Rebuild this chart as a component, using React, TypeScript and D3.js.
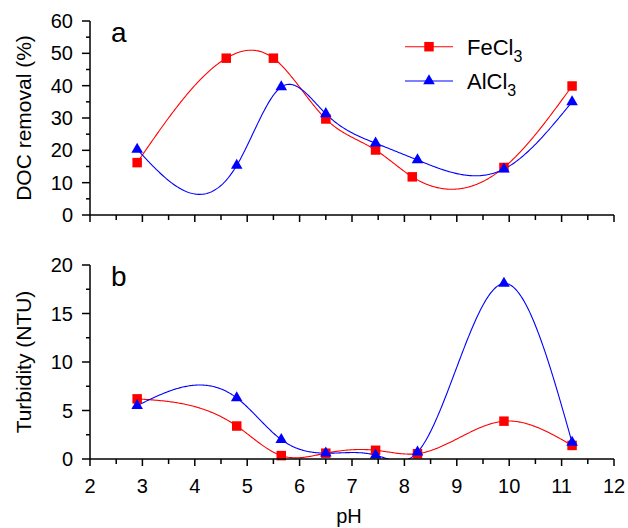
import React from "react";
import * as d3 from "d3";

const pHFeA = [2.9, 4.6, 5.5, 6.5, 7.45, 8.15, 9.9, 11.2];
const docFe = [16.2, 48.5, 48.5, 29.7, 20.1, 11.8, 14.7, 39.9];
const pHAlA = [2.9, 4.8, 5.65, 6.5, 7.45, 8.25, 9.9, 11.2];
const docAl = [20.3, 15.3, 39.6, 31.3, 22.2, 17.0, 14.2, 35.0];

const pHB = [2.9, 4.8, 5.65, 6.5, 7.45, 8.25, 9.9, 11.2];
const turbFe = [6.2, 3.4, 0.35, 0.6, 0.9, 0.55, 3.9, 1.4];
const turbAl = [5.5, 6.3, 2.0, 0.6, 0.4, 0.7, 18.1, 1.7];

const xTicks = [2, 3, 4, 5, 6, 7, 8, 9, 10, 11, 12];
const yTicksA = [0, 10, 20, 30, 40, 50, 60];
const yTicksB = [0, 5, 10, 15, 20];

const RED = "#ff0000";
const BLUE = "#0000ff";
const FONT = "'Liberation Sans', Arial, sans-serif";

// natural cubic spline in x, sampled for drawing
function spline(xs: number[], ys: number[], n = 400): [number, number][] {
  const k = xs.length;
  const h: number[] = [];
  for (let i = 0; i < k - 1; i++) h.push(xs[i + 1] - xs[i]);
  const a: number[] = new Array(k).fill(0);
  const b: number[] = new Array(k).fill(0);
  const c: number[] = new Array(k).fill(0);
  const d: number[] = new Array(k).fill(0);
  b[0] = 1; b[k - 1] = 1;
  for (let i = 1; i < k - 1; i++) {
    a[i] = h[i - 1];
    b[i] = 2 * (h[i - 1] + h[i]);
    c[i] = h[i];
    d[i] = 6 * ((ys[i + 1] - ys[i]) / h[i] - (ys[i] - ys[i - 1]) / h[i - 1]);
  }
  const cp = new Array(k).fill(0);
  const dp = new Array(k).fill(0);
  cp[0] = c[0] / b[0];
  dp[0] = d[0] / b[0];
  for (let i = 1; i < k; i++) {
    const m = b[i] - a[i] * cp[i - 1];
    cp[i] = c[i] / m;
    dp[i] = (d[i] - a[i] * dp[i - 1]) / m;
  }
  const M = new Array(k).fill(0);
  M[k - 1] = dp[k - 1];
  for (let i = k - 2; i >= 0; i--) M[i] = dp[i] - cp[i] * M[i + 1];
  const out: [number, number][] = [];
  for (let s = 0; s <= n; s++) {
    const x = xs[0] + ((xs[k - 1] - xs[0]) * s) / n;
    let i = 0;
    while (i < k - 2 && x > xs[i + 1]) i++;
    const hi = h[i];
    const t1 = xs[i + 1] - x;
    const t0 = x - xs[i];
    const y =
      (M[i] * t1 * t1 * t1) / (6 * hi) +
      (M[i + 1] * t0 * t0 * t0) / (6 * hi) +
      (ys[i] / hi - (M[i] * hi) / 6) * t1 +
      (ys[i + 1] / hi - (M[i + 1] * hi) / 6) * t0;
    out.push([x, y]);
  }
  return out;
}

const X0 = 90, X1 = 614;
const x = d3.scaleLinear().domain([2, 12]).range([X0, X1]);
const yA = d3.scaleLinear().domain([0, 60]).range([215, 21]);
const yB = d3.scaleLinear().domain([0, 20]).range([459, 265]);

const sq = d3.symbol().type(d3.symbolSquare).size(90)();
const tri = d3.symbol().type(d3.symbolTriangle).size(58)();

function Panel({ y, ticks, minorStep, title, label, series, clipId, showXLabels }: any) {
  const [ymin, ymax] = y.domain();
  const line = d3.line<[number, number]>().x((p) => x(p[0])).y((p) => y(p[1]));
  const minorY = d3.range(ymin + minorStep, ymax, minorStep * 2);
  const minorX = d3.range(2.5, 12, 1);
  const yTop = y(ymax), yBot = y(ymin);
  return (
    <g>
      <defs>
        <clipPath id={clipId}>
          <rect x={X0} y={yTop - 20} width={X1 - X0 + 10} height={yBot - yTop + 20} />
        </clipPath>
      </defs>
      <g clipPath={`url(#${clipId})`}>
        {series.map((s: any, i: number) => (
          <path key={i} d={line(spline(s.xs, s.ys)) || ""} fill="none" stroke={s.color} strokeWidth={1.1} />
        ))}
      </g>
      {series.map((s: any, i: number) =>
        s.xs.map((xv: number, j: number) => (
          <path key={`${i}-${j}`} d={s.shape} transform={`translate(${x(xv)},${y(s.ys[j])})`} fill={s.color} />
        ))
      )}
      <line x1={X0} x2={X0} y1={yTop} y2={yBot} stroke="#000" strokeWidth={1.5} />
      {ticks.map((t: number) => (
        <g key={t}>
          <line x1={X0 - 8} x2={X0} y1={y(t)} y2={y(t)} stroke="#000" strokeWidth={1.5} />
          <text x={X0 - 17} y={y(t) + 7} textAnchor="end" fontSize={20} fontFamily={FONT}>{t}</text>
        </g>
      ))}
      {minorY.map((t: number) => (
        <line key={t} x1={X0 - 4} x2={X0} y1={y(t)} y2={y(t)} stroke="#000" strokeWidth={1.5} />
      ))}
      <line x1={X0} x2={X1} y1={yBot} y2={yBot} stroke="#000" strokeWidth={1.5} />
      {xTicks.map((t) => (
        <g key={t}>
          <line x1={x(t)} x2={x(t)} y1={yBot} y2={yBot + 7} stroke="#000" strokeWidth={1.5} />
          {showXLabels && (
            <text x={x(t)} y={yBot + 34} textAnchor="middle" fontSize={20} fontFamily={FONT}>{t}</text>
          )}
        </g>
      ))}
      {minorX.map((t: number) => (
        <line key={t} x1={x(t)} x2={x(t)} y1={yBot} y2={yBot + 5} stroke="#000" strokeWidth={1.5} />
      ))}
      <text transform={`translate(31,${(yTop + yBot) / 2}) rotate(-90)`} textAnchor="middle" fontSize={21} fontFamily={FONT}>{title}</text>
      <text x={111} y={yTop + 21} fontSize={28} fontFamily={FONT}>{label}</text>
    </g>
  );
}

export default function App() {
  return (
    <svg width={628} height={528} style={{ position: "absolute", left: 0, top: 0, background: "#fff" }}>
      <Panel
        y={yA}
        ticks={yTicksA}
        minorStep={5}
        title="DOC removal (%)"
        label="a"
        clipId="clipA"
        showXLabels={false}
        series={[
          { xs: pHFeA, ys: docFe, color: RED, shape: sq },
          { xs: pHAlA, ys: docAl, color: BLUE, shape: tri },
        ]}
      />
      <Panel
        y={yB}
        ticks={yTicksB}
        minorStep={2.5}
        title="Turbidity (NTU)"
        label="b"
        clipId="clipB"
        showXLabels={true}
        series={[
          { xs: pHB, ys: turbFe, color: RED, shape: sq },
          { xs: pHB, ys: turbAl, color: BLUE, shape: tri },
        ]}
      />
      <g fontFamily={FONT}>
        <line x1={405} x2={453} y1={46.7} y2={46.7} stroke={RED} strokeWidth={1.1} />
        <path d={sq} transform="translate(429,46.7)" fill={RED} />
        <text x={467} y={54.5} fontSize={22}>FeCl<tspan fontSize={16} dy={7}>3</tspan></text>
        <line x1={405} x2={453} y1={81} y2={81} stroke={BLUE} strokeWidth={1.1} />
        <path d={tri} transform="translate(429,81)" fill={BLUE} />
        <text x={467} y={88.5} fontSize={22}>AlCl<tspan fontSize={16} dy={7}>3</tspan></text>
      </g>
      <text x={349} y={523} textAnchor="middle" fontSize={20} fontFamily={FONT}>pH</text>
    </svg>
  );
}
